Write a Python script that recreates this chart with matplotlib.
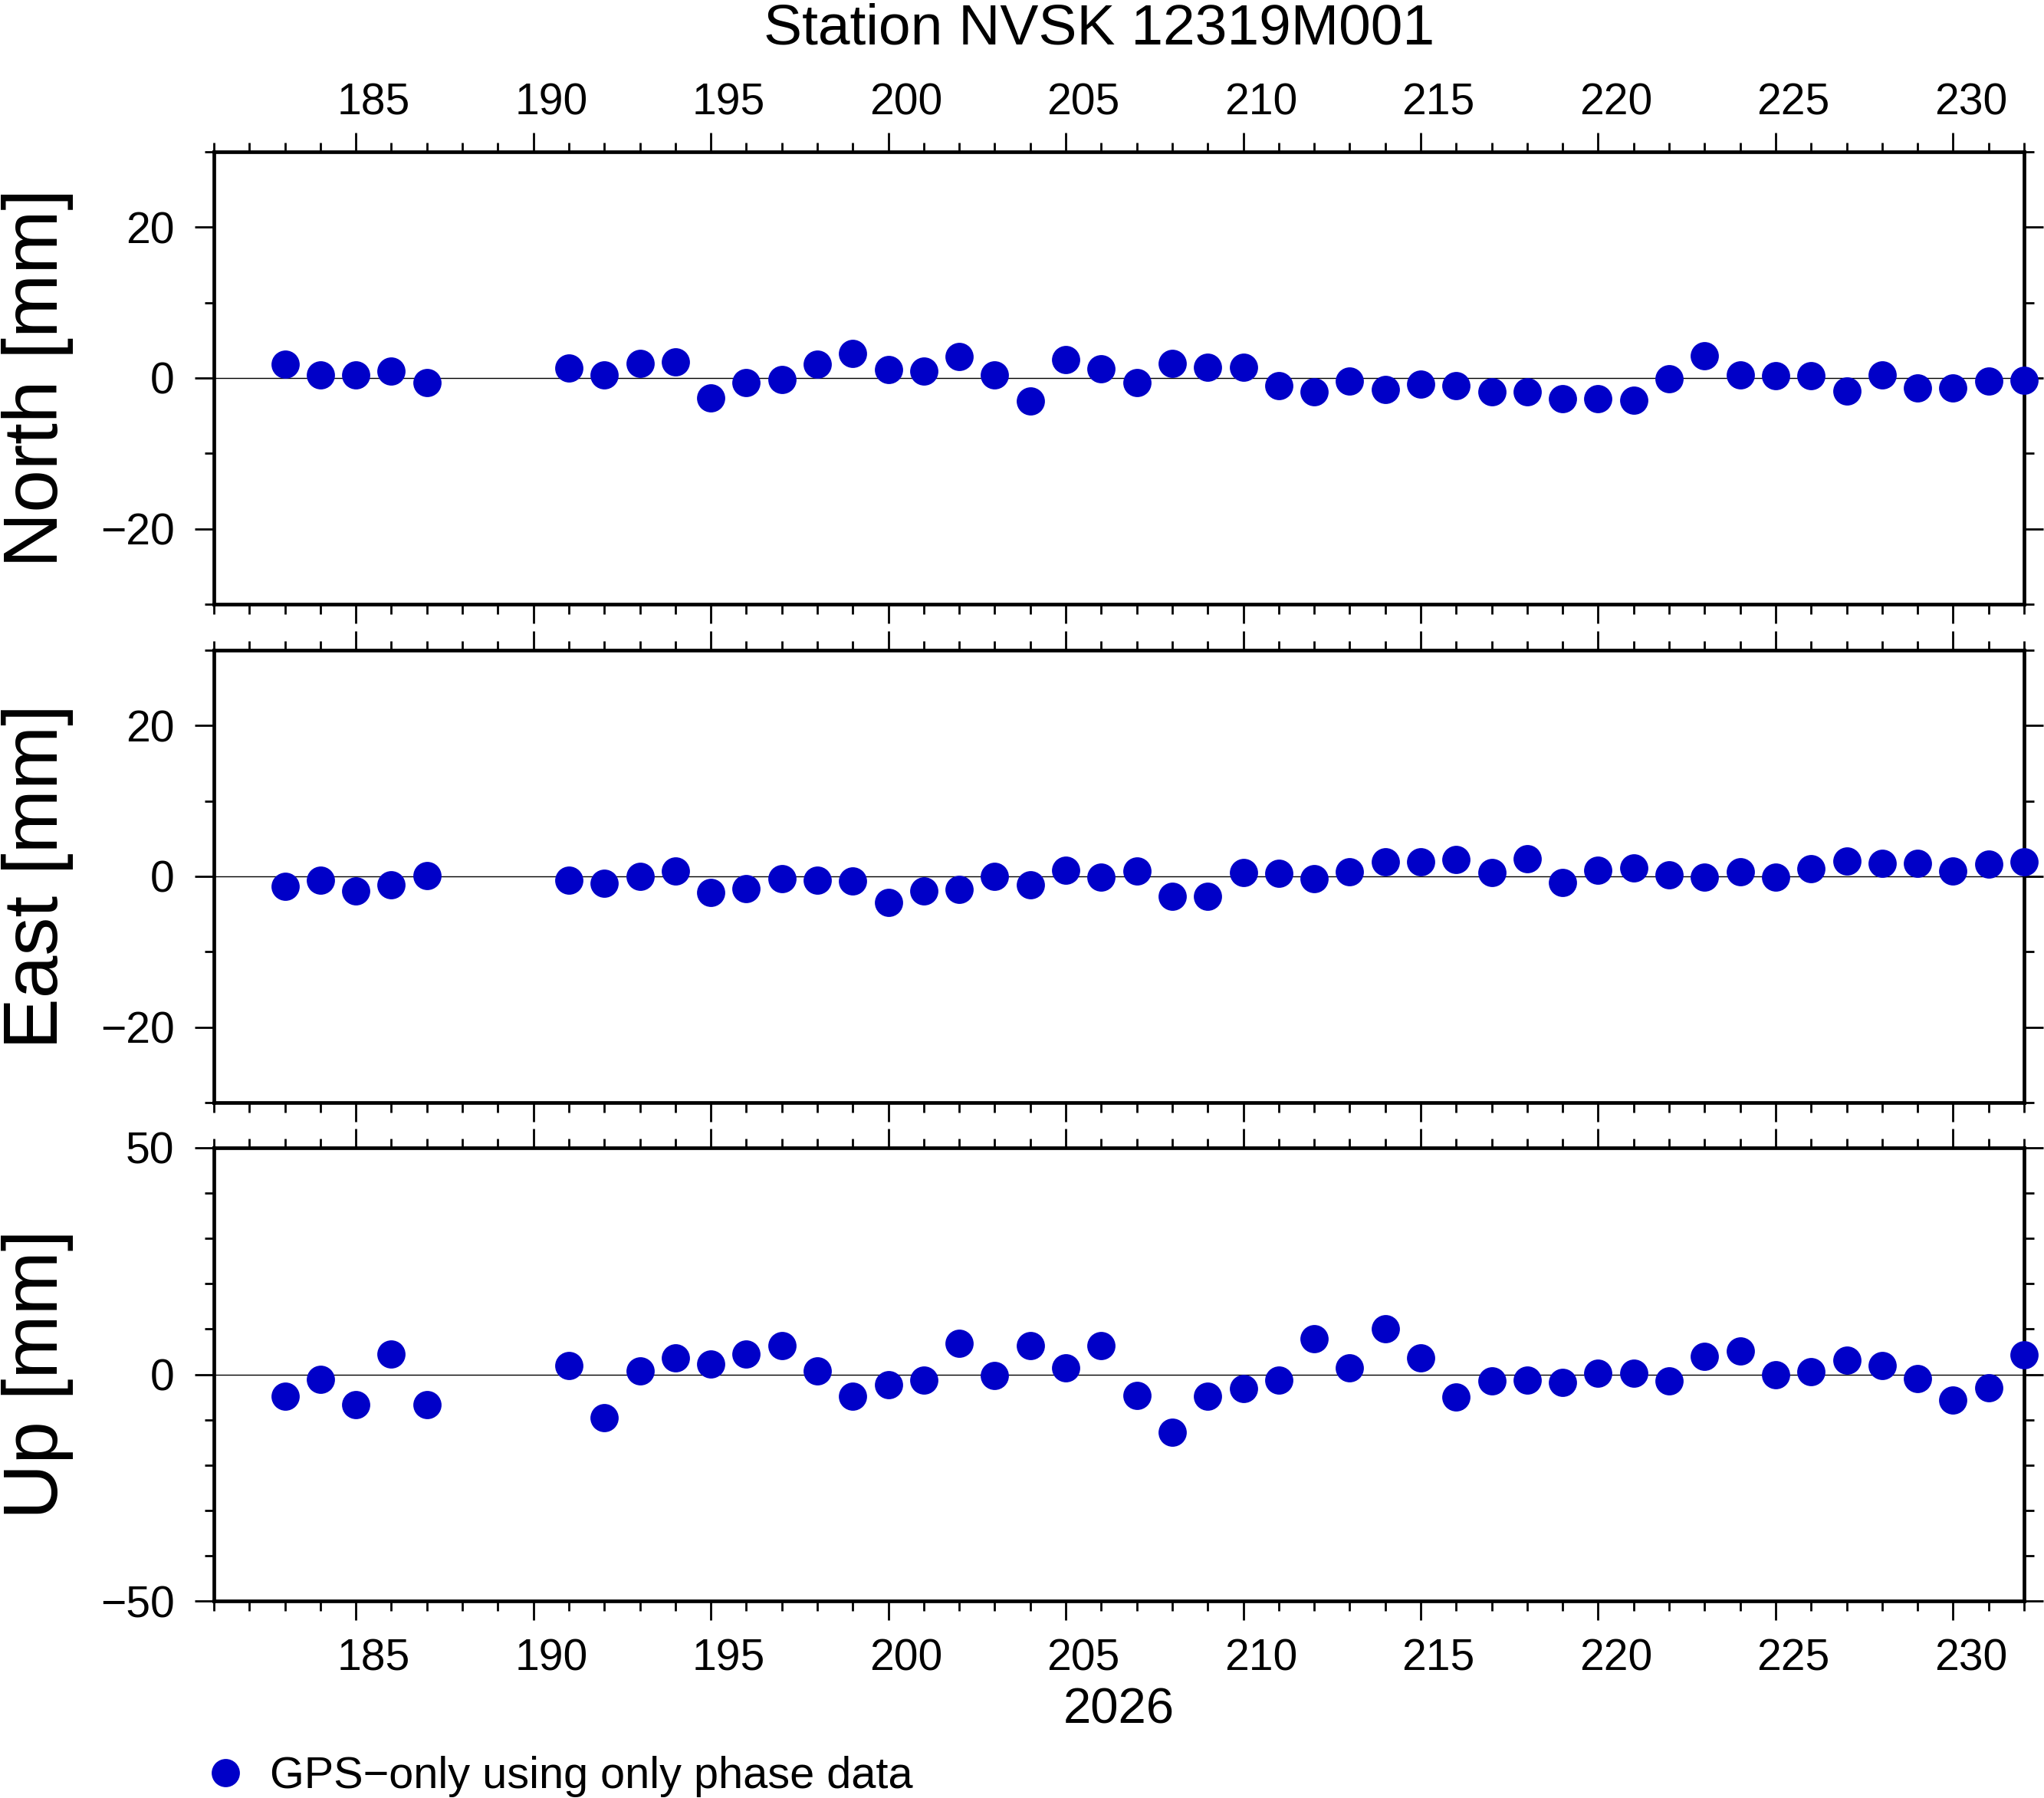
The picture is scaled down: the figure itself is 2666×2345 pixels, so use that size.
import matplotlib
matplotlib.use("Agg")
import matplotlib.pyplot as plt
from matplotlib.ticker import MultipleLocator
import numpy as np

plt.rcParams['font.family'] = ['Liberation Sans', 'DejaVu Sans']

# day of year 2026
days = [183, 184, 185, 186, 187,
        191, 192, 193, 194, 195, 196, 197, 198, 199, 200, 201, 202, 203, 204,
        205, 206, 207, 208, 209, 210, 211, 212, 213, 214, 215, 216, 217, 218,
        219, 220, 221, 222, 223, 224, 225, 226, 227, 228, 229, 230, 231, 232]

north = [1.8, 0.4, 0.4, 0.9, -0.6,
         1.3, 0.4, 1.9, 2.1, -2.6, -0.6, -0.2, 1.8, 3.3, 1.1, 0.9, 2.8, 0.4, -3.1,
         2.4, 1.2, -0.6, 1.9, 1.4, 1.4, -1.0, -1.8, -0.4, -1.5, -0.8, -1.0, -1.8, -1.8,
         -2.7, -2.7, -2.9, -0.1, 3.0, 0.4, 0.3, 0.3, -1.7, 0.4, -1.3, -1.3, -0.4, -0.3]

east = [-1.3, -0.5, -1.9, -1.1, 0.1,
        -0.5, -0.9, 0.0, 0.7, -2.1, -1.6, -0.3, -0.5, -0.6, -3.5, -1.9, -1.7, 0.0, -1.1,
        0.8, -0.1, 0.7, -2.6, -2.6, 0.5, 0.4, -0.3, 0.6, 1.9, 1.9, 2.2, 0.5, 2.3,
        -0.8, 0.8, 1.1, 0.2, -0.1, 0.6, -0.1, 1.0, 2.0, 1.7, 1.7, 0.7, 1.6, 1.9]

up = [-4.9, -1.1, -6.7, 4.5, -6.7,
      1.9, -9.6, 0.7, 3.6, 2.2, 4.4, 6.4, 0.7, -4.9, -2.3, -1.3, 6.9, -0.3, 6.3,
      1.5, 6.3, -4.7, -12.8, -4.9, -3.2, -1.3, 7.8, 1.5, 10.0, 3.7, -5.0, -1.5, -1.3,
      -1.7, 0.2, 0.2, -1.5, 3.9, 5.2, 0.0, 0.6, 3.2, 1.9, -1.0, -5.7, -3.0, 4.3]

components = [north, east, up]
comp_names = ['North [mm]', 'East [mm]', 'Up [mm]']
comp_limits = [(-30, 30), (-30, 30), (-50, 50)]
comp_major = [20, 20, 50]
comp_minor = [10, 10, 10]

day_ticks = np.arange(185, 231, 5)
day_labels = [str(d) for d in day_ticks]

legend_text = 'GPS\u2212only using only phase data'
title = 'Station NVSK 12319M001'
year = '2026'

W, H = 2666, 2345
fig = plt.figure(figsize=(W / 100, H / 100), dpi=100)

left = 279 / W
width = (2640 - 279) / W
panel_px = [(198, 788), (848, 1438), (1497, 2088)]

dot_color = '#0000c8'
axes = []
for i, (top_px, bot_px) in enumerate(panel_px):
    ax = fig.add_axes([left, (H - bot_px) / H, width, (bot_px - top_px) / H])
    axes.append(ax)
    line, = ax.plot(days, components[i], 'o', color=dot_color, ms=26.5,
                    mec='none', clip_on=False, zorder=3)
    ax.axhline(0, color='black', lw=1.0, zorder=1)
    ax.set_xlim(181, 232)
    ax.set_ylim(*comp_limits[i])
    ax.xaxis.set_major_locator(MultipleLocator(5))
    ax.xaxis.set_minor_locator(MultipleLocator(1))
    ax.yaxis.set_major_locator(MultipleLocator(comp_major[i]))
    ax.yaxis.set_minor_locator(MultipleLocator(comp_minor[i]))
    ax.tick_params(axis='both', which='major', direction='out', length=18,
                   width=2, labelsize=41, pad=19)
    ax.tick_params(axis='both', which='minor', direction='out', length=9, width=2)
    ax.tick_params(axis='x', which='both', top=True, bottom=True,
                   labelbottom=False, labeltop=False)
    ax.tick_params(axis='y', which='both', left=True, right=True)
    for s in ax.spines.values():
        s.set_linewidth(3.4)
    ax.set_ylabel(comp_names[i], fontsize=72)
    ax.yaxis.set_label_coords((96 - 279) / (2640 - 279), 0.5)

# day labels sit in the middle of each day interval
sec_top = axes[0].secondary_xaxis('top')
sec_top.set_xticks(day_ticks + 0.5, labels=day_labels)
sec_top.tick_params(length=0, pad=26, labelsize=41)
for s in sec_top.spines.values():
    s.set_visible(False)

sec_bot = axes[2].secondary_xaxis('bottom')
sec_bot.set_xticks(day_ticks + 0.5, labels=day_labels)
sec_bot.tick_params(length=0, pad=35, labelsize=41)
for s in sec_bot.spines.values():
    s.set_visible(False)
sec_bot.set_xlabel(year, fontsize=47, labelpad=7)

fig.text(1434 / W, (H - 57) / H, title, ha='center', va='baseline', fontsize=54)

fig.legend(handles=[line], labels=[legend_text], loc='center left',
           bbox_to_anchor=(277 / W, (H - 2317) / H), frameon=False, fontsize=41.5,
           handlelength=0.6, handletextpad=0.7, borderpad=0, borderaxespad=0,
           numpoints=1)

fig.savefig('out.png', dpi=100)
